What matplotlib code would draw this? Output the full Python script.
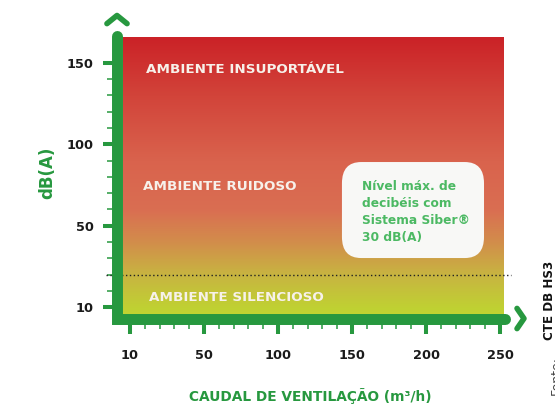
import numpy as np
import matplotlib.pyplot as plt
from matplotlib.colors import LinearSegmentedColormap
from matplotlib.patches import FancyBboxPatch

plt.rcParams['font.family'] = ['DejaVu Sans']

# escala esquematica: caudal de ventilacao (m3/h) e nivel sonoro dB(A)
x_ticks = [0, 50, 100, 150, 200, 250]
x_labels = ["10", "50", "100", "150", "200", "250"]
y_ticks = [0, 50, 100, 150]
y_labels = ["10", "50", "100", "150"]
x_minor = [v for v in range(10, 250, 10) if v % 50]
y_minor = [v for v in range(10, 150, 10) if v % 50]

zone_names = ["AMBIENTE INSUPORTÁVEL", "AMBIENTE RUIDOSO", "AMBIENTE SILENCIOSO"]
zone_x = [11, 9, 13]
zone_y = [146, 74, 6]

siber_level = 20   # linha pontilhada (30 dB(A))
siber_text = "Nível máx. de\ndecibéis com\nSistema Siber®\n30 dB(A)"

# cores do degrade (posicao em y, cor)
grad_stops = [(-7, '#bfd631'), (0, '#c0d033'), (20, '#c8b441'), (40, '#d28d4b'),
              (60, '#da6e52'), (90, '#d9634d'), (130, '#d2443a'), (166, '#cb2227')]

green = '#27983f'
xlim = (-8.8, 252.7)
ylim = (-6.9, 165.8)

fig = plt.figure(figsize=(5.55, 4.04), dpi=100)
ax = fig.add_axes([0.2108, 0.2116, 0.6973, 0.6968])
ax.set_xlim(*xlim)
ax.set_ylim(*ylim)

# degrade de fundo
lo, hi = grad_stops[0][0], grad_stops[-1][0]
cmap = LinearSegmentedColormap.from_list(
    'ruido', [((p - lo) / (hi - lo), c) for p, c in grad_stops])
grad = np.linspace(lo, hi, 400).reshape(-1, 1)
ax.imshow(grad, extent=[-4.7, 252.7, lo, hi], origin='lower', aspect='auto',
          cmap=cmap, vmin=lo, vmax=hi, zorder=0)

for s in ax.spines.values():
    s.set_visible(False)

# eixos em L com pontas arredondadas
ax.plot([xlim[0], xlim[0], 253.4], [166.5, ylim[0], ylim[0]], color=green, lw=7.9,
        solid_capstyle='round', solid_joinstyle='miter', clip_on=False, zorder=10)
# setas
ax.plot([xlim[0] - 6.8, xlim[0], xlim[0] + 6.8], [174, 179, 174], color=green, lw=4,
        solid_capstyle='round', solid_joinstyle='round', clip_on=False, zorder=10)
ax.plot([261.5, 266.2, 261.5], [ylim[0] + 6.2, ylim[0], ylim[0] - 6.2], color=green, lw=4,
        solid_capstyle='round', solid_joinstyle='round', clip_on=False, zorder=10)

ax.set_xticks(x_ticks)
ax.set_xticklabels(x_labels)
ax.set_yticks(y_ticks)
ax.set_yticklabels(y_labels)
ax.set_xticks(x_minor, minor=True)
ax.set_yticks(y_minor, minor=True)
ax.tick_params(which='major', color=green, width=2.9, length=11, labelsize=9.3,
               labelcolor='#1a1a1a')
ax.tick_params(axis='x', which='major', pad=11)
ax.tick_params(axis='y', which='major', length=10, pad=7)
ax.tick_params(which='minor', color=green, width=1.1, length=7.5)
for lab in ax.get_xticklabels() + ax.get_yticklabels():
    lab.set_fontweight('bold')

# linha do nivel Siber
ax.plot([-16.2, 257.4], [siber_level, siber_level], color='#222222', lw=1.0,
        linestyle=(0, (1, 1.8)), clip_on=False, zorder=4)

for name, zx, zy in zip(zone_names, zone_x, zone_y):
    ax.text(zx, zy, name, color='#f7f1ea', fontsize=9.7, fontweight='bold',
            ha='left', va='center', zorder=5)

box = FancyBboxPatch((143.2, 30.2), 96.0, 58.9, boxstyle='round,pad=0,rounding_size=13',
                     facecolor='#f8f8f6', edgecolor='none', zorder=6)
ax.add_patch(box)
ax.text(156.6, 58.5, siber_text, color='#4cb963', fontsize=8.8, fontweight='bold',
        ha='left', va='center', linespacing=1.42, zorder=7)

ax.set_xlabel("CAUDAL DE VENTILAÇÃO (m³/h)", color=green, fontsize=9.9,
              fontweight='bold')
ax.xaxis.set_label_coords(0.5, -0.248)
ax.set_ylabel("dB(A)", color=green, fontsize=12, fontweight='bold', va='center')
ax.yaxis.set_label_coords(-0.181, 0.517)

fig.text(0.991, 0.022, "Fonte:", rotation=90, ha='left', va='bottom', fontsize=9,
         color='#444444')
fig.text(0.978, 0.158, "CTE DB HS3", rotation=90, ha='left', va='bottom', fontsize=8.6,
         fontweight='bold', color='#111111')

fig.savefig('out.png', dpi=100)
